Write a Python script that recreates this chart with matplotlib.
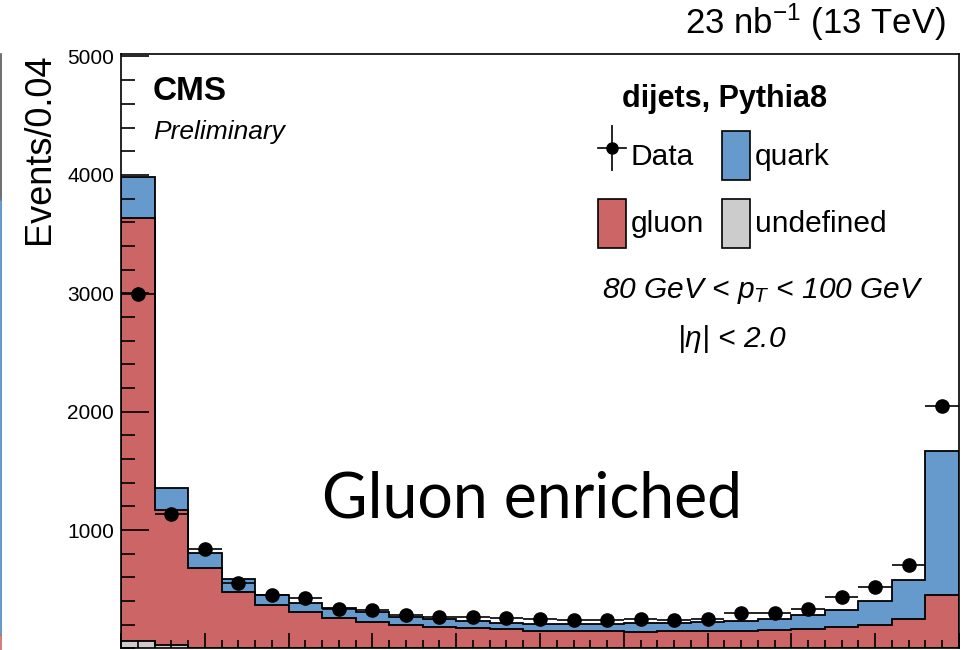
import numpy as np
import matplotlib
matplotlib.use('Agg')
import matplotlib.pyplot as plt
from matplotlib.patches import Patch
from matplotlib.lines import Line2D
from matplotlib.ticker import MultipleLocator

plt.rcParams['font.family'] = ['Liberation Sans', 'DejaVu Sans']
plt.rcParams['mathtext.fontset'] = 'custom'
plt.rcParams['mathtext.rm'] = 'Liberation Sans'
plt.rcParams['mathtext.it'] = 'Liberation Sans:italic'

# 25 bins of width 0.04
edges = np.linspace(0, 1, 26)

# stacked MC components (events per bin)
undefined = np.array([62, 26, 6, 5, 4, 4, 3, 3, 3, 3, 3, 3, 3, 3, 3, 3, 3, 3, 3, 3, 3, 3, 3, 3, 5])
gluon = np.array([3571, 1143, 676, 469, 365, 303, 250, 217, 195, 175, 167, 158, 147,
                  142, 140, 137, 141, 147, 147, 152, 160, 175, 195, 248, 446])
quark = np.array([348, 183, 126, 110, 85, 79, 86, 90, 70, 68, 61, 56, 60,
                  61, 63, 72, 73, 73, 84, 96, 119, 146, 205, 324, 1216])
data = np.array([2995, 1135, 837, 550, 451, 426, 330, 322, 280, 268, 265, 259, 248,
                 240, 237, 248, 240, 248, 302, 296, 335, 432, 521, 707, 2047])

c_quark = '#6699cc'
c_gluon = '#cc6666'
c_undef = '#cccccc'

fig = plt.figure(figsize=(9.65, 6.5), dpi=100)
ax = fig.add_axes([121 / 965, 1.6 / 650, 838 / 965, (648.4 - 54) / 650])

top_undef = undefined
top_gluon = undefined + gluon
top_quark = top_gluon + quark

# THStack style: draw cumulative tops, biggest first
for tops, col in [(top_quark, c_quark), (top_gluon, c_gluon), (top_undef, c_undef)]:
    ax.stairs(tops, edges, baseline=0, fill=True, color=col, zorder=1)
    ax.stairs(tops, edges, baseline=0, fill=False, color='black', lw=1.3, zorder=2)

centers = 0.5 * (edges[1:] + edges[:-1])
ax.errorbar(centers, data, xerr=0.02, yerr=np.sqrt(data), fmt='o', color='black',
            ms=9.5, elinewidth=1.2, capsize=0, zorder=3)

ax.set_xlim(0, 1)
ax.set_ylim(0, 5021)
ax.yaxis.set_major_locator(MultipleLocator(1000))
ax.yaxis.set_minor_locator(MultipleLocator(200))
ax.xaxis.set_major_locator(MultipleLocator(0.1))
ax.xaxis.set_minor_locator(MultipleLocator(0.02))
ax.tick_params(axis='y', which='major', direction='in', length=20, width=1.2,
               labelsize=15, pad=5)
ax.tick_params(axis='y', which='minor', direction='in', length=10, width=1.2)
ax.tick_params(axis='x', which='major', direction='in', length=11, width=1.2,
               labelbottom=False)
ax.tick_params(axis='x', which='minor', direction='in', length=5.5, width=1.2)
ax.set_yticks([1000, 2000, 3000, 4000, 5000])
for s in ax.spines.values():
    s.set_linewidth(1.2)

def fx(px):
    return px / 965

def fy(py):
    return 1 - py / 650

fig.text(fx(40), fy(149), 'Events/0.04', rotation=90, fontsize=26,
         ha='center', va='center')
fig.text(fx(946), fy(34), r'23 nb$^{\mathregular{-1}}$ (13 TeV)', fontsize=25,
         ha='right', va='baseline')
fig.text(fx(153), fy(100), 'CMS', fontsize=24, fontweight='bold', va='baseline')
fig.text(fx(153), fy(139), 'Preliminary', fontsize=19, style='italic', va='baseline')
fig.text(fx(725), fy(107), 'dijets, Pythia8', fontsize=22, fontweight='bold',
         ha='center', va='baseline')
fig.text(fx(763), fy(298), r'80 GeV < $p_{T}$ < 100 GeV', fontsize=21.5,
         style='italic', ha='center', va='baseline')
fig.text(fx(732), fy(347), r'|$\eta$| < 2.0', fontsize=21.5,
         style='italic', ha='center', va='baseline')
fig.text(fx(322), fy(517), 'Gluon enriched', fontsize=45, family='Lato',
         va='baseline')

data_handle = (Line2D([0], [0], color='black', marker='o', ms=8, lw=1.2),
               Line2D([0], [0], color='black', marker='|', ms=33, mew=1.2, ls='none'))
handles = [
    data_handle,
    Patch(facecolor=c_gluon, edgecolor='black', lw=1.2),
    Patch(facecolor=c_quark, edgecolor='black', lw=1.2),
    Patch(facecolor=c_undef, edgecolor='black', lw=1.2),
]
labels = ['Data', 'gluon', 'quark', 'undefined']
leg = fig.legend(handles, labels, ncol=2, loc='upper left',
                 bbox_to_anchor=(fx(598), fy(131)), frameon=False,
                 fontsize=21.5, handlelength=0.93, handleheight=2.15,
                 handletextpad=0.17, columnspacing=0.6, labelspacing=0.62,
                 borderpad=0, borderaxespad=0)

# remnant of the neighbouring panel at the left edge
fig.add_artist(Line2D([fx(1), fx(1)], [fy(54), fy(200)], color='#555555', lw=1.2))
fig.add_artist(Line2D([fx(1), fx(1)], [fy(200), fy(635)], color='#4a86c5', lw=1.2))
fig.add_artist(Line2D([fx(1), fx(1)], [fy(635), fy(650)], color=c_gluon, lw=1.2))

fig.savefig('out.png', dpi=100)
